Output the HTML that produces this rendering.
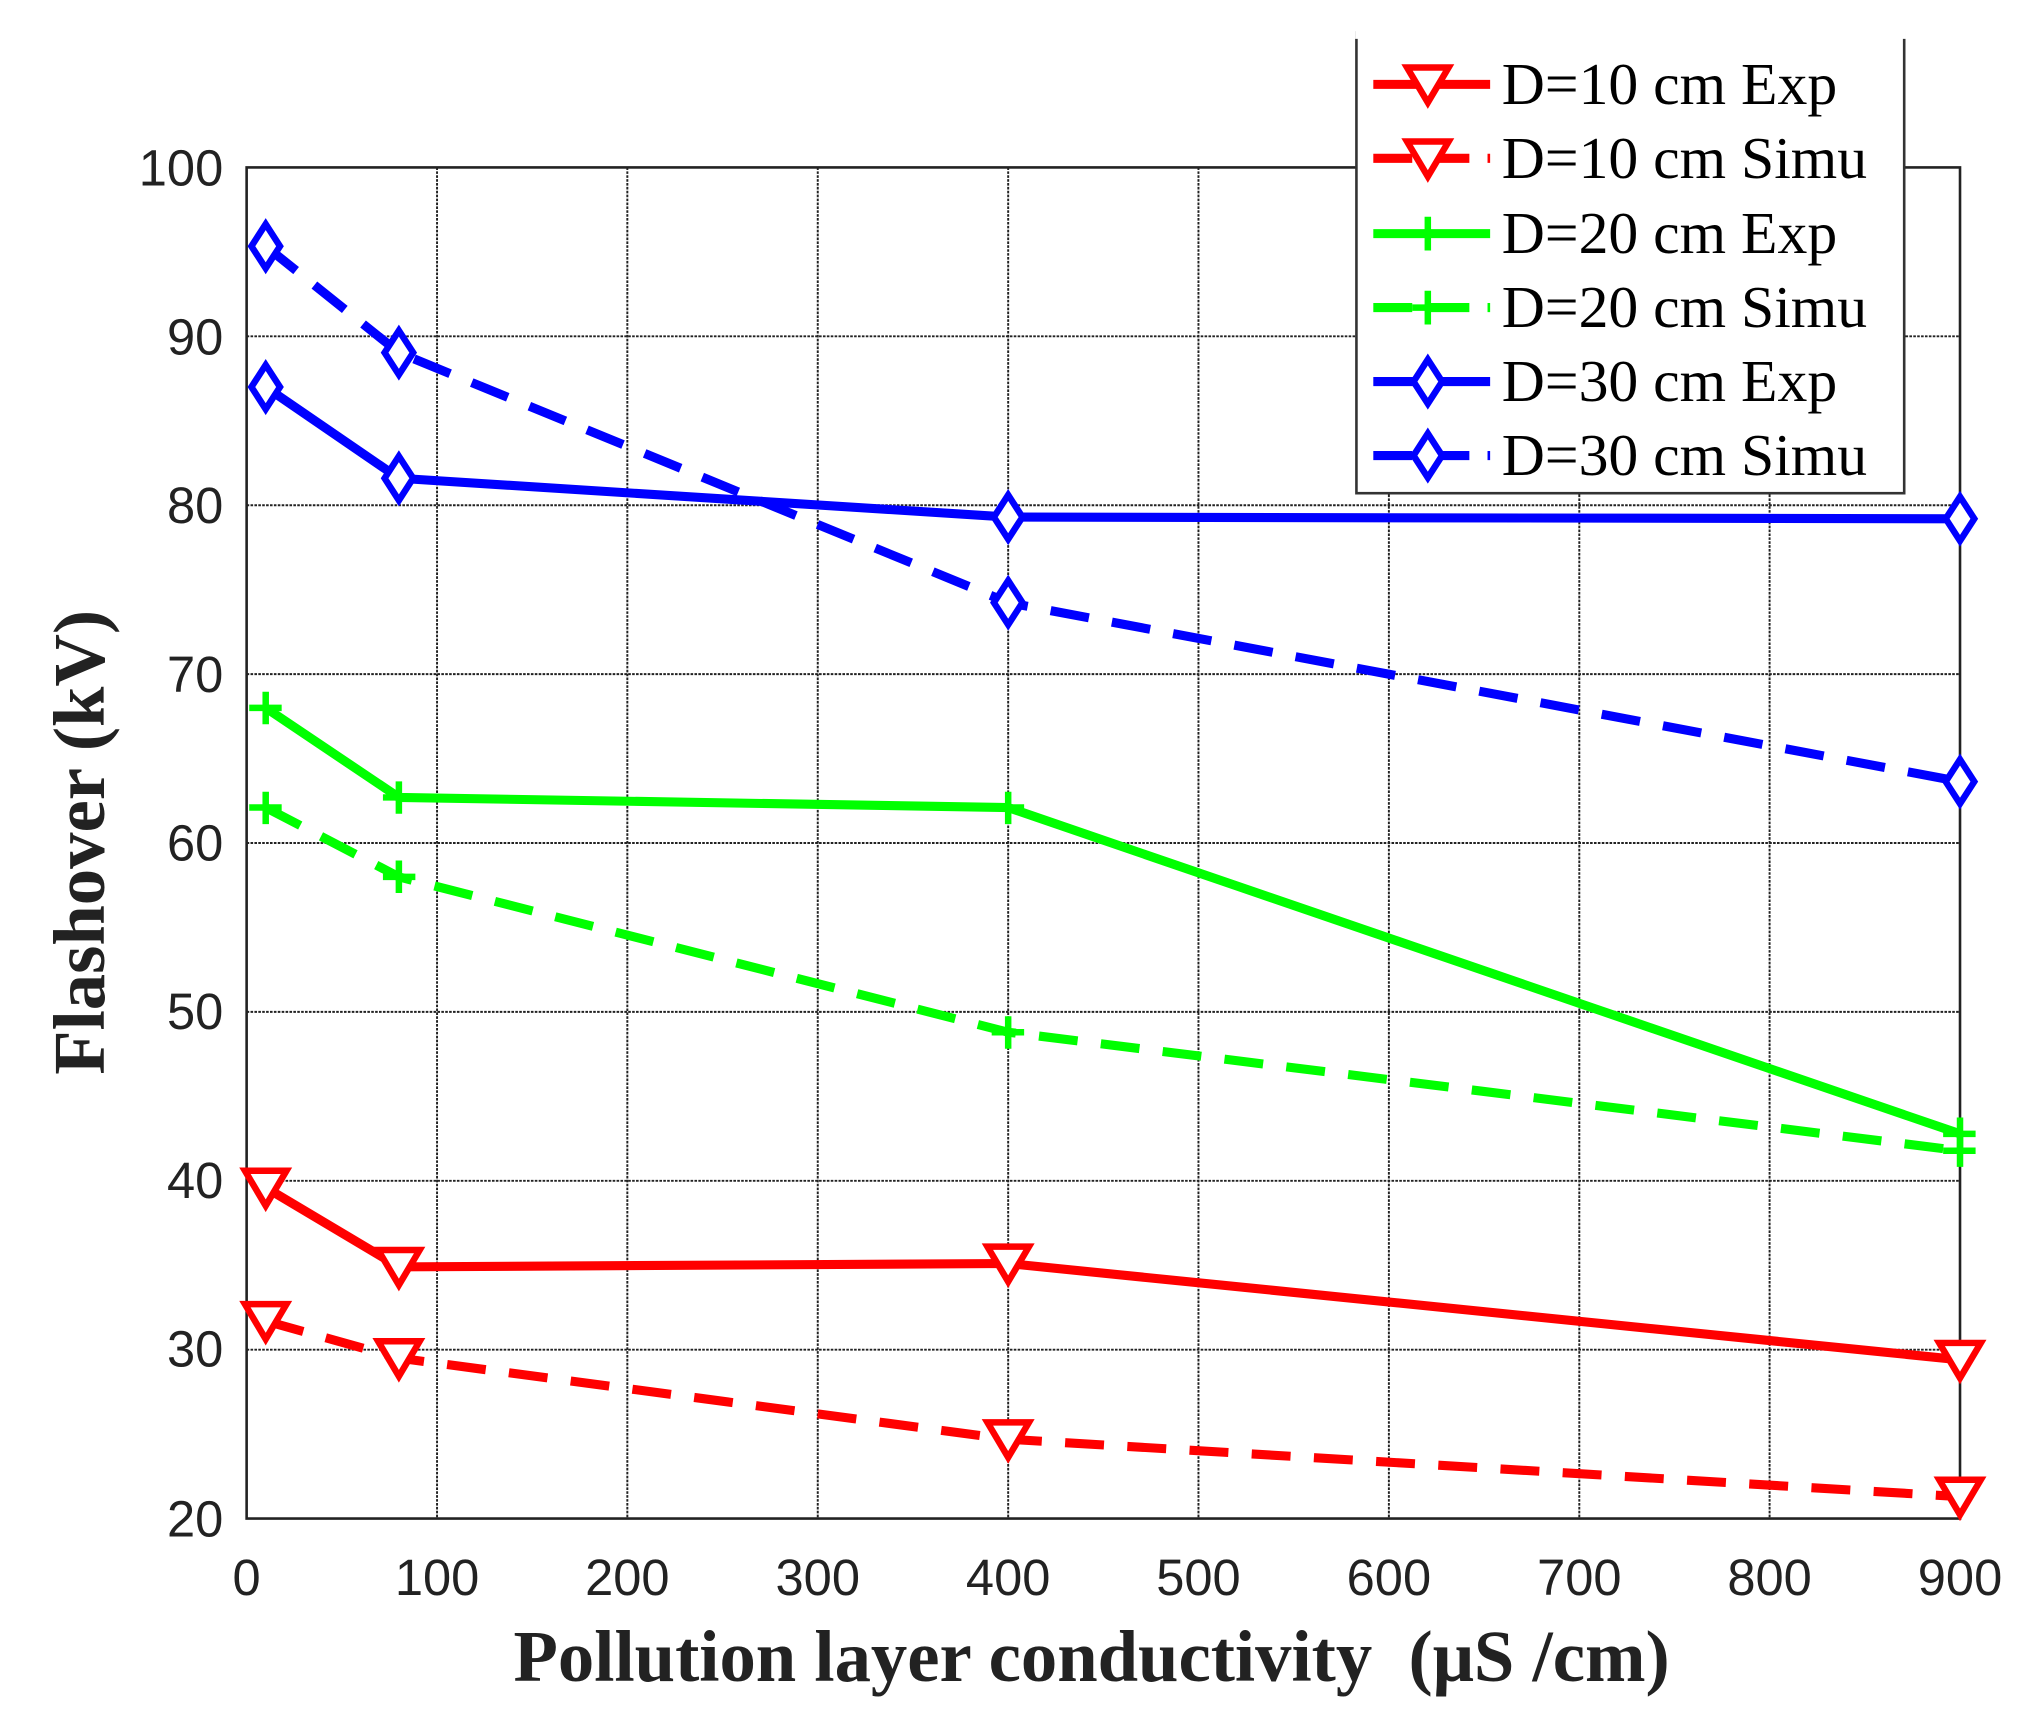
<!DOCTYPE html>
<html><head><meta charset="utf-8"><style>html,body{margin:0;padding:0;background:#fff}svg{display:block}</style></head>
<body>
<svg width="2034" height="1734" viewBox="0 0 1567 1336" preserveAspectRatio="none" xmlns="http://www.w3.org/2000/svg">
<defs>
<g id="tri"><polygon points="-16,-13 16,-13 0,14" fill="#fff" stroke-width="5"/></g>
<g id="dia"><polygon points="0,-17 11,0 0,17 -11,0" fill="#fff" stroke-width="5"/></g>
</defs>
<rect width="1567" height="1336" fill="#fff"/>
<g stroke="#222" stroke-width="1.5" stroke-dasharray="2,1">
<line x1="336.7" y1="129" x2="336.7" y2="1170"/><line x1="483.3" y1="129" x2="483.3" y2="1170"/><line x1="630" y1="129" x2="630" y2="1170"/><line x1="776.7" y1="129" x2="776.7" y2="1170"/><line x1="923.3" y1="129" x2="923.3" y2="1170"/><line x1="1070" y1="129" x2="1070" y2="1170"/><line x1="1216.7" y1="129" x2="1216.7" y2="1170"/><line x1="1363.3" y1="129" x2="1363.3" y2="1170"/>
<line x1="190" y1="259.1" x2="1510" y2="259.1"/><line x1="190" y1="389.3" x2="1510" y2="389.3"/><line x1="190" y1="519.4" x2="1510" y2="519.4"/><line x1="190" y1="649.5" x2="1510" y2="649.5"/><line x1="190" y1="779.6" x2="1510" y2="779.6"/><line x1="190" y1="909.8" x2="1510" y2="909.8"/><line x1="190" y1="1039.9" x2="1510" y2="1039.9"/>
</g>
<rect x="190" y="129" width="1320" height="1041" fill="none" stroke="#222" stroke-width="2"/>
<g font-family="Liberation Sans, sans-serif" font-size="39" fill="#222" text-anchor="end">
<text x="172" y="143">100</text><text x="172" y="273">90</text><text x="172" y="403">80</text><text x="172" y="533">70</text><text x="172" y="663">60</text><text x="172" y="793">50</text><text x="172" y="923">40</text><text x="172" y="1053">30</text><text x="172" y="1184">20</text>
</g>
<g font-family="Liberation Sans, sans-serif" font-size="39" fill="#222" text-anchor="middle">
<text x="190" y="1229">0</text><text x="336.7" y="1229">100</text><text x="483.3" y="1229">200</text><text x="630" y="1229">300</text><text x="776.7" y="1229">400</text><text x="923.3" y="1229">500</text><text x="1070" y="1229">600</text><text x="1216.7" y="1229">700</text><text x="1363.3" y="1229">800</text><text x="1510" y="1229">900</text>
</g>
<text x="841" y="1295" text-anchor="middle" font-family="Liberation Serif, serif" font-weight="bold" font-size="56" fill="#222" xml:space="preserve">Pollution layer conductivity  (μS /cm)</text>
<text transform="translate(80,649) rotate(-90)" text-anchor="middle" font-family="Liberation Serif, serif" font-weight="bold" font-size="56" fill="#222">Flashover (kV)</text>
<g fill="none" stroke-width="7" stroke-linejoin="round">
<polyline stroke="#00f" stroke-dasharray="30,18" points="204.7,189.7 307.3,271.7 776.7,464.3 1510,602.2"/>
<polyline stroke="#00f" points="204.7,298.2 307.3,368.5 776.7,398.4 1510,399.7"/>
<polyline stroke="#0f0" points="204.7,545.4 307.3,614.4 776.7,622.2 1510,873.6"/>
<polyline stroke="#0f0" stroke-dasharray="30,18" points="204.7,622.2 307.3,675.6 776.7,795.3 1510,886.6"/>
<polyline stroke="#f00" points="204.7,915 307.3,976.1 776.7,973.5 1510,1047.7"/>
<polyline stroke="#f00" stroke-dasharray="30,18" points="204.7,1017.8 307.3,1046.4 776.7,1108.9 1510,1153.1"/>
</g>
<g stroke="#00f"><use href="#dia" x="204.7" y="189.7"/><use href="#dia" x="307.3" y="271.7"/><use href="#dia" x="776.7" y="464.3"/><use href="#dia" x="1510" y="602.2"/>
<use href="#dia" x="204.7" y="298.2"/><use href="#dia" x="307.3" y="368.5"/><use href="#dia" x="776.7" y="398.4"/><use href="#dia" x="1510" y="399.7"/></g>
<g stroke="#f00"><use href="#tri" x="204.7" y="915"/><use href="#tri" x="307.3" y="976.1"/><use href="#tri" x="776.7" y="973.5"/><use href="#tri" x="1510" y="1047.7"/>
<use href="#tri" x="204.7" y="1017.8"/><use href="#tri" x="307.3" y="1046.4"/><use href="#tri" x="776.7" y="1108.9"/><use href="#tri" x="1510" y="1153.1"/></g>
<g stroke="#0f0" stroke-width="5">
<path d="M192,545.4h25M204.7,533v25M295,614.4h25M307.3,602v25M764,622.2h25M776.7,610v25M1497,873.6h25M1510,861v25"/>
<path d="M192,622.2h25M204.7,610v25M295,675.6h25M307.3,663v25M764,795.3h25M776.7,783v25M1497,886.6h25M1510,874v25"/>
</g>
<rect x="1045" y="25" width="422" height="355" fill="#fff" stroke="#333" stroke-width="2"/>
<line x1="1044" y1="20" x2="1468" y2="20" stroke="#fff" stroke-width="20"/>
<g stroke-width="7">
<line x1="1058" y1="65" x2="1148" y2="65" stroke="#f00"/>
<line x1="1058" y1="122" x2="1148" y2="122" stroke="#f00" stroke-dasharray="30,14"/>
<line x1="1058" y1="180" x2="1148" y2="180" stroke="#0f0"/>
<line x1="1058" y1="237" x2="1148" y2="237" stroke="#0f0" stroke-dasharray="30,14"/>
<line x1="1058" y1="294" x2="1148" y2="294" stroke="#00f"/>
<line x1="1058" y1="351" x2="1148" y2="351" stroke="#00f" stroke-dasharray="30,14"/>
</g>
<g stroke="#f00"><use href="#tri" x="1100" y="65"/><use href="#tri" x="1100" y="122"/></g>
<g stroke="#00f"><use href="#dia" x="1100" y="294"/><use href="#dia" x="1100" y="351"/></g>
<path d="M1088,180h25M1100,167v26M1088,237h25M1100,224v26" stroke="#0f0" stroke-width="5"/>
<g font-family="Liberation Serif, serif" font-size="46" fill="#000">
<text x="1157" y="80">D=10 cm Exp</text><text x="1157" y="137">D=10 cm Simu</text><text x="1157" y="195">D=20 cm Exp</text><text x="1157" y="252">D=20 cm Simu</text><text x="1157" y="309">D=30 cm Exp</text><text x="1157" y="366">D=30 cm Simu</text>
</g>
</svg>
</body></html>
